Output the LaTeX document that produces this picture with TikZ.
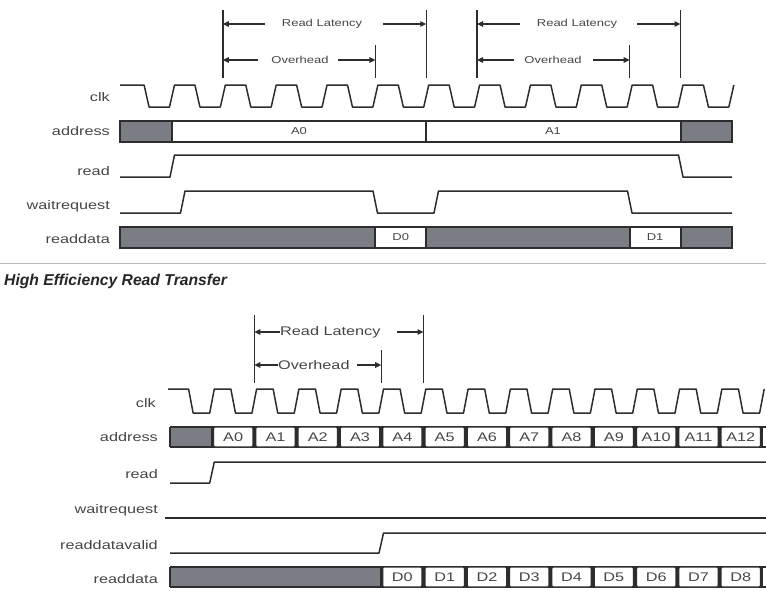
\documentclass[tikz,border=0pt]{standalone}
\usepackage{fontspec}
\setmainfont{Liberation Sans}[FakeStretch=1.3]
\newfontfamily\headfont{Liberation Sans}
\usetikzlibrary{arrows.meta}
\definecolor{ink}{RGB}{45,45,45}
\definecolor{txt}{RGB}{70,70,70}
\definecolor{busgray}{RGB}{122,126,132}
\definecolor{sepgray}{RGB}{185,185,185}
\begin{document}
\begin{tikzpicture}[x=1pt,y=-1pt,
  sig/.style={draw=ink,line width=1.5pt,line join=round},
  lab/.style={anchor=east,inner sep=0pt,text=txt,font=\fontsize{12.5}{14}\selectfont},
  ann/.style={inner sep=0pt,text=txt,font=\fontsize{10}{12}\selectfont},
  annB/.style={anchor=west,inner sep=0pt,text=txt,font=\fontsize{12.5}{14}\selectfont},
  bustxt/.style={inner sep=0pt,text=txt,font=\fontsize{10}{12}\selectfont},
  boxtxt/.style={inner sep=0pt,text=txt,font=\fontsize{12.5}{14}\selectfont},
  dimarrow/.style={draw=ink,line width=1.3pt,-{Triangle[length=6pt,width=5.5pt]}},
  vline/.style={draw=ink,line width=1.3pt},
  busborder/.style={draw=ink,line width=1.5pt},
  bussep/.style={draw=ink,line width=2pt},
  boxst/.style={draw=ink,line width=1.3pt,fill=white,rounded corners=1.2pt}
]
\useasboundingbox (0,0) rectangle (766,590);
\fill[white] (0,0) rectangle (766,590);

% ================= TOP DIAGRAM =================
% labels
\node[lab] (tclk) at (110,97) {clk};
\node[lab] (taddr) at (110,131) {address};
\node[lab] (tread) at (110,171) {read};
\node[lab] (twait) at (110,206) {waitrequest};
\node[lab] (tdata) at (110,239) {readdata};

% clock
\draw[sig] (120,85) foreach \k in {0,...,11} {
  -- ({146.58+50.85*\k-2.5},85) -- ({146.58+50.85*\k+2.5},107)
  -- ({172+50.85*\k-2.5},107) -- ({172+50.85*\k+2.5},85) };

% address bus
\fill[busgray] (120,121) rectangle (172,142);
\fill[busgray] (680.5,121) rectangle (732,142);
\draw[busborder] (120,121) rectangle (732,142);
\draw[bussep] (172,121) -- (172,142);
\draw[bussep] (426.25,121) -- (426.25,142);
\draw[bussep] (680.5,121) -- (680.5,142);
\node[bustxt] (ta0) at (299,131) {A0};
\node[bustxt] (ta1) at (553,131) {A1};

% read
\draw[sig] (120,177) -- (170,177) -- (174.5,155) -- (678.5,155) -- (683,177) -- (732,177);

% waitrequest
\draw[sig] (120,213) -- (180.5,213) -- (185,191) -- (373,191) -- (377.5,213)
  -- (434,213) -- (438.5,191) -- (627.5,191) -- (632,213) -- (732,213);

% readdata bus
\fill[busgray] (120,227) rectangle (375.4,248);
\fill[busgray] (426.25,227) rectangle (629.65,248);
\fill[busgray] (680.5,227) rectangle (732,248);
\draw[busborder] (120,227) rectangle (732,248);
\foreach \xx in {375.4,426.25,629.65,680.5} \draw[bussep] (\xx,227) -- (\xx,248);
\node[bustxt] (td0) at (400.8,237.5) {D0};
\node[bustxt] (td1) at (655.1,237.5) {D1};

% annotations (first read)
\draw[vline] (222.85,10) -- (222.85,78);
\draw[vline] (426.25,10) -- (426.25,78);
\draw[vline] (375.4,45) -- (375.4,78);
\coordinate (lat1L) at (222.85,24);
\coordinate (lat1R) at (426.25,24);
\coordinate (ovh1L) at (222.85,60);
\coordinate (ovh1R) at (375.4,60);
\node[ann] (lat1) at (322,24) {Read Latency};
\node[ann] (ovh1) at (300,60) {Overhead};
\coordinate (lat1a) at (265,24);
\coordinate (lat1b) at (383,24);
\coordinate (ovh1a) at (258,60);
\coordinate (ovh1b) at (338,60);
\draw[dimarrow] (lat1a) -- (lat1L);
\draw[dimarrow] (lat1b) -- (lat1R);
\draw[dimarrow] (ovh1a) -- (ovh1L);
\draw[dimarrow] (ovh1b) -- (ovh1R);

% annotations (second read)
\draw[vline] (477.1,10) -- (477.1,78);
\draw[vline] (680.5,10) -- (680.5,78);
\draw[vline] (629.65,45) -- (629.65,78);
\coordinate (lat2L) at (477.1,24);
\coordinate (lat2R) at (680.5,24);
\coordinate (ovh2L) at (477.1,60);
\coordinate (ovh2R) at (629.65,60);
\node[ann] (lat2) at (577,24) {Read Latency};
\node[ann] (ovh2) at (553,60) {Overhead};
\coordinate (lat2a) at (520,24);
\coordinate (lat2b) at (637,24);
\coordinate (ovh2a) at (514,60);
\coordinate (ovh2b) at (593,60);
\draw[dimarrow] (lat2a) -- (lat2L);
\draw[dimarrow] (lat2b) -- (lat2R);
\draw[dimarrow] (ovh2a) -- (ovh2L);
\draw[dimarrow] (ovh2b) -- (ovh2R);

% separator and heading
\draw[sepgray,line width=1pt] (0,263) -- (766,263);
\node[anchor=west,inner sep=0pt,text=black!85,font=\headfont\bfseries\itshape\fontsize{15.7}{18}\selectfont] (title) at (4,281) {High Efficiency Read Transfer};

% ================= BOTTOM DIAGRAM =================
\node[lab] (bclk) at (156,403) {clk};
\node[lab] (baddr) at (158,437) {address};
\node[lab] (bread) at (158,474) {read};
\node[lab] (bwait) at (158,510) {waitrequest};
\node[lab] (bvalid) at (158,545) {readdatavalid};
\node[lab] (bdata) at (158,579) {readdata};

% clock
\draw[sig] (168,389) foreach \k in {0,...,13} {
  -- ({190.85+42.3*\k-2.3},389) -- ({190.85+42.3*\k+2.3},413)
  -- ({212+42.3*\k-2.3},413) -- ({212+42.3*\k+2.3},389) };

% address bus
\fill[busgray] (170,427) rectangle (212,447);
\draw[busborder] (170,427) -- (766,427);
\draw[busborder] (170,447) -- (766,447);
\draw[busborder] (170,427) -- (170,447);
\foreach \k in {0,...,12} {
  \pgfmathsetmacro\xa{212+42.3*\k}
  \pgfmathsetmacro\xb{212+42.3*(\k+1)}
  \draw[boxst] (\xa+1.4,427) rectangle (\xb-1.4,447);
  \node[boxtxt] (ba\k) at ({(\xa+\xb)/2},437.5) {A\k};
}
\foreach \k in {0,...,13} \draw[bussep] ({212+42.3*\k},427) -- ({212+42.3*\k},447);

% read
\draw[sig] (170,483) -- (209.7,483) -- (214.3,462) -- (766,462);
% waitrequest
\draw[sig] (165,518) -- (766,518);
% readdatavalid
\draw[sig] (170,553) -- (379,553) -- (383.5,533) -- (766,533);

% readdata bus
\fill[busgray] (170,567) rectangle (381.2,587);
\draw[busborder] (170,567) -- (766,567);
\draw[busborder] (170,587) -- (766,587);
\draw[busborder] (170,567) -- (170,587);
\foreach \k in {0,...,8} {
  \pgfmathsetmacro\xa{381.2+42.3*\k}
  \pgfmathsetmacro\xb{381.2+42.3*(\k+1)}
  \draw[boxst] (\xa+1.4,567) rectangle (\xb-1.4,587);
  \node[boxtxt] (bd\k) at ({(\xa+\xb)/2},577.5) {D\k};
}
\foreach \k in {0,...,9} \draw[bussep] ({381.2+42.3*\k},567) -- ({381.2+42.3*\k},587);

% annotations
\draw[vline] (254.3,315) -- (254.3,383);
\draw[vline] (423.5,315) -- (423.5,383);
\draw[vline] (381.2,350) -- (381.2,383);
\coordinate (lat3L) at (254.3,332);
\coordinate (lat3R) at (423.5,332);
\coordinate (ovh3L) at (254.3,365);
\coordinate (ovh3R) at (381.2,365);
\node[annB] (lat3) at (280,332) {Read Latency};
\node[annB] (ovh3) at (278,365) {Overhead};
\coordinate (lat3b) at (397,332);
\coordinate (ovh3b) at (357,365);
\draw[dimarrow] (lat3.west) -- (lat3L);
\draw[dimarrow] (lat3b) -- (lat3R);
\draw[dimarrow] (ovh3.west) -- (ovh3L);
\draw[dimarrow] (ovh3b) -- (ovh3R);
\end{tikzpicture}
\end{document}
